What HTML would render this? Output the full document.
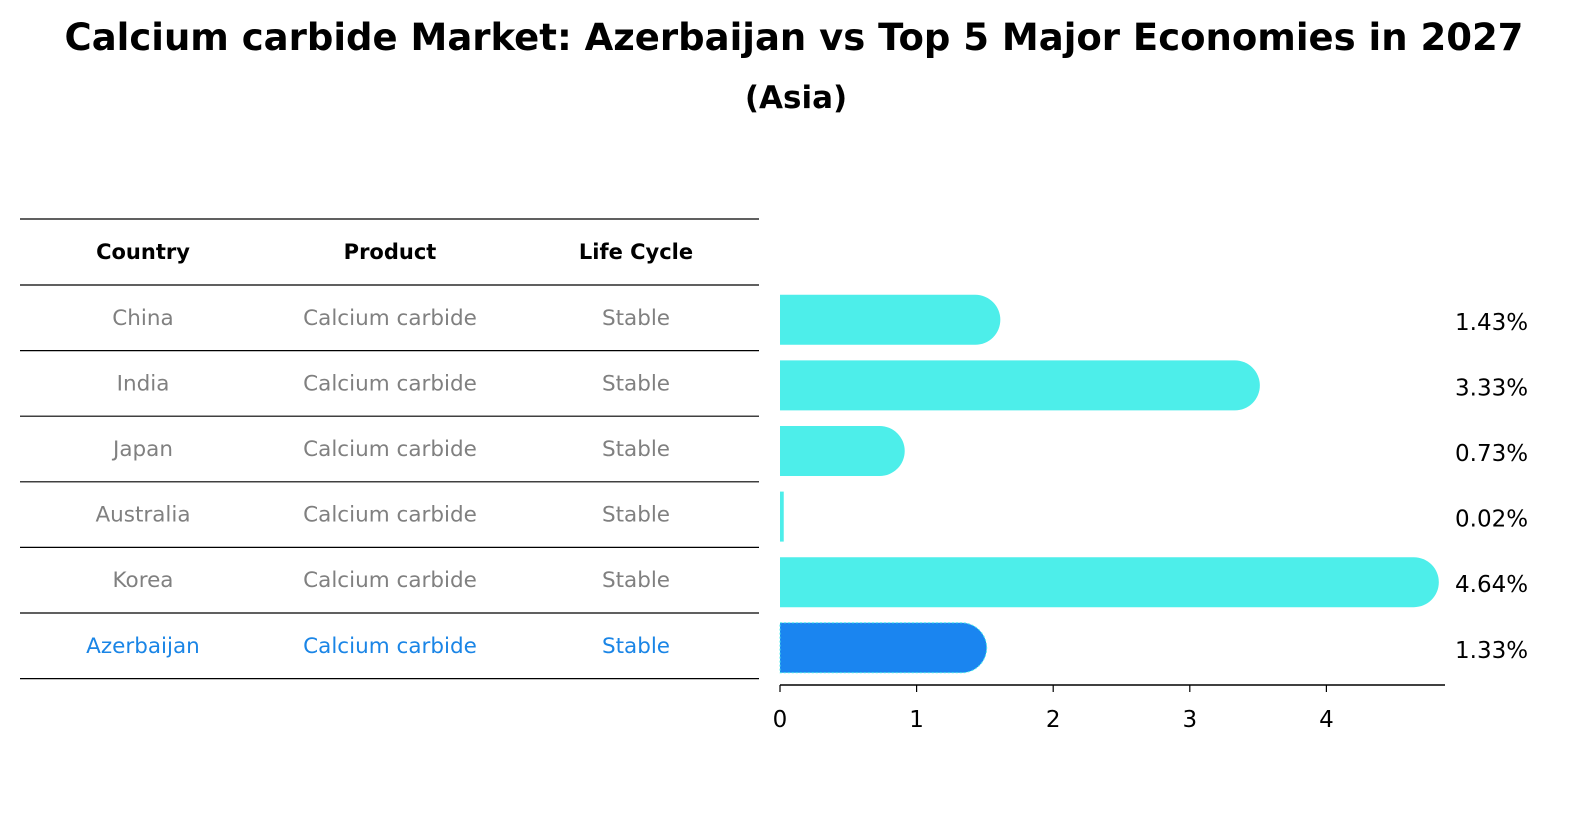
<!DOCTYPE html>
<html><head><meta charset="utf-8"><style>
html,body{margin:0;padding:0;background:#fff;overflow:hidden;width:1593px;height:823px}
svg{display:block}
svg text{font-family:"DejaVu Sans","Liberation Sans",sans-serif}
</style></head><body>
<svg width="1593" height="823" viewBox="0 0 1593 823" xmlns="http://www.w3.org/2000/svg">
<text x="794" y="50" text-anchor="middle" font-size="37" font-weight="bold">Calcium carbide Market: Azerbaijan vs Top 5 Major Economies in 2027</text>
<text x="796" y="108" text-anchor="middle" font-size="31" font-weight="bold">(Asia)</text>
<g id="table"></g>
<g id="bars"></g>
</svg>
<script>
const countries=["China","India","Japan","Australia","Korea","Azerbaijan"];
const products=["Calcium carbide","Calcium carbide","Calcium carbide","Calcium carbide","Calcium carbide","Calcium carbide"];
const lifeCycles=["Stable","Stable","Stable","Stable","Stable","Stable"];
const values=[1.43,3.33,0.73,0.02,4.64,1.33];
const ticks=[0,1,2,3,4];
const NS="http://www.w3.org/2000/svg";
const x0=780,pxPerUnit=136.6,rowTop=285,rowH=65.6,barH=50;
const xs=v=>x0+v*pxPerUnit;
const yc=i=>rowTop+rowH*(i+0.5);
function mk(tag,attrs,parent){const e=document.createElementNS(NS,tag);for(const k in attrs)e.setAttribute(k,attrs[k]);parent.appendChild(e);return e;}
const T=document.getElementById('table'),B=document.getElementById('bars');
const colX=[143,390,636];
const heads=["Country","Product","Life Cycle"];
heads.forEach((h,j)=>{const t=mk('text',{x:colX[j],y:259,'text-anchor':'middle','font-size':21,'font-weight':'bold'},T);t.textContent=h;

});
for(let i=0;i<=countries.length+1;i++){const y=i==0?219:rowTop+rowH*(i-1);
const l=mk('line',{x1:20,x2:759,y1:y,y2:y,stroke:'#000','stroke-width':1.2},T);

}
countries.forEach((c,i)=>{const last=i==countries.length-1;const col=last?'#1a85e6':'#808080';
[c,products[i],lifeCycles[i]].forEach((v,j)=>{const t=mk('text',{x:colX[j],y:yc(i)+7,'text-anchor':'middle','font-size':21.5,fill:col},T);t.textContent=v;

});
const v=values[i];const r=barH/2;const color=last?'#1a85f0':'#4deeea';const y=yc(i)-r+2;const xe=xs(v);
let d;
if(v*pxPerUnit<4){d=`M${x0},${y}H${xe+1}V${y+barH}H${x0}Z`;}
else d=`M${x0},${y}H${xe}A${r},${r} 0 0 1 ${xe},${y+barH}H${x0}Z`;
const p=mk('path',{d:d,fill:color},B);
if(last){p.setAttribute('stroke','#4deeea');p.setAttribute('stroke-dasharray','2 2');p.setAttribute('stroke-width','1');}


const t=mk('text',{x:1455,y:yc(i)+12,'font-size':23,fill:'#000'},B);t.textContent=v.toFixed(2)+'%';


});
const ax=mk('line',{x1:x0,x2:1445,y1:685,y2:685,stroke:'#000','stroke-width':1.5},B);


ticks.forEach(tv=>{const x=xs(tv);
const l=mk('line',{x1:x,x2:x,y1:685,y2:692,stroke:'#000','stroke-width':1.2},B);


const t=mk('text',{x:x,y:727,'text-anchor':'middle','font-size':23},B);t.textContent=tv;

});
</script>
</body></html>
